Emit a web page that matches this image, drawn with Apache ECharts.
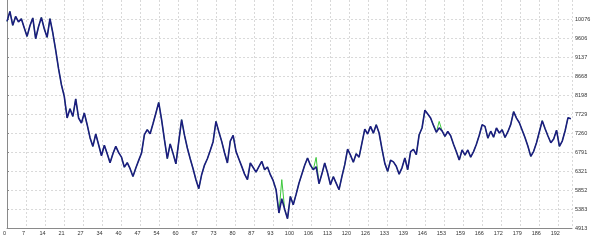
<!DOCTYPE html>
<html><head><meta charset="utf-8">
<script src="https://cdn.jsdelivr.net/npm/echarts@6/dist/echarts.min.js"></script>
<style>html,body{margin:0;padding:0;background:#fff}#c{width:596px;height:249px}</style>
</head><body><div id="c"></div>
<script>
// x-axis tick labels (bar numbers), evenly spaced grid steps
const xLabels = ['0','7','14','21','27','34','40','47','54','60','67','73','80','87','93','100','106','113','120','126','133','139','146','153','159','166','172','179','186','192'];
const xStep = 6.636;
// y-axis price tick labels
const yTicks = [4913,5383,5852,6321,6791,7260,7729,8198,8668,9137,9606,10076];
// main (navy) series, one value per bar
const mainValues = [
10027,10274,9928,10150,10012,10093,9871,9655,9920,10111,
9598,9895,10126,9846,9631,10093,9739,9314,8856,8460,
8170,7636,7866,7675,8106,7636,7512,7759,7470,7148,
6933,7240,6975,6703,6962,6752,6529,6752,6933,6777,
6666,6418,6529,6381,6190,6396,6586,6769,7222,7346,
7247,7495,7755,8022,7594,7099,6628,6995,6760,6500,
7049,7594,7210,6893,6628,6381,6109,5886,6232,6470,
6628,6831,7049,7552,7297,7057,6777,6522,7062,7203,
6809,6621,6438,6247,6109,6522,6411,6294,6430,6562,
6356,6423,6232,6084,5861,5284,5638,5379,5143,5695,
5490,5745,6020,6245,6468,6646,6468,6356,6430,6010,
6247,6522,6277,5985,6183,6024,5861,6183,6480,6864,
6717,6542,6752,6666,7012,7359,7240,7428,7260,7470,
7264,6871,6512,6314,6589,6549,6443,6245,6403,6646,
6356,6802,6859,6727,7222,7388,7829,7735,7636,7452,
7284,7391,7316,7180,7302,7198,6987,6802,6596,6844,
6715,6844,6666,6804,6987,7210,7470,7428,7136,7309,
7161,7388,7264,7346,7153,7297,7477,7792,7633,7519,
7334,7148,6938,6685,6812,7024,7297,7569,7371,7190,
7024,7118,7334,6935,7066,7321,7643,7618
];
// secondary (green) series differs from main only at these bars: [bar, value]
const greenBars = [96, 108, 151];
const greenVals = [6110, 6660, 7551];

const greenValues = mainValues.slice();
greenBars.forEach((b, k) => { greenValues[b] = greenVals[k]; });

const chart = echarts.init(document.getElementById('c'), null, {renderer: 'canvas'});
const gridLine = {show: true, lineStyle: {color: '#d9d9d9', type: [2, 2], width: 1}};
const lab = {fontFamily: 'Liberation Sans', fontSize: 5.5, color: '#333'};
chart.setOption({
  animation: false,
  backgroundColor: '#fff',
  grid: {left: 7, right: 24, top: 0, bottom: 21, containLabel: false},
  xAxis: {
    type: 'value', min: 0, max: 197.4, interval: xStep,
    axisLine: {show: true, lineStyle: {color: '#8a8a8a', width: 1}},
    axisTick: {show: false},
    splitLine: gridLine,
    axisLabel: Object.assign({}, lab, {
      margin: 2, showMaxLabel: true, showMinLabel: true, padding: [0, 5, 0, 0],
      formatter: function (v) {
        const k = Math.round(v / xStep);
        return (Math.abs(v - k * xStep) < 1e-3 && k < xLabels.length) ? xLabels[k] : '';
      }
    })
  },
  yAxis: [{
    type: 'value', position: 'right', min: 4913, max: 10556,
    axisLine: {show: true, lineStyle: {color: '#8a8a8a', width: 1}},
    axisTick: {show: true, length: 2, customValues: yTicks, lineStyle: {color: '#8a8a8a'}},
    splitLine: gridLine,
    axisLabel: Object.assign({}, lab, {margin: 3, customValues: yTicks, formatter: v => String(Math.round(v))})
  }, {
    type: 'value', position: 'left', min: 4913, max: 10556,
    axisLine: {show: true, onZero: false, lineStyle: {color: '#8a8a8a', width: 1}},
    axisTick: {show: false}, axisLabel: {show: false}, splitLine: {show: false}
  }],
  series: [{
    type: 'line', data: greenValues.map((v, i) => [i, v]), showSymbol: false,
    lineStyle: {color: '#3cc83c', width: 1}, z: 2
  }, {
    type: 'line', data: mainValues.map((v, i) => [i, v]), showSymbol: false,
    lineStyle: {color: '#1c1c80', width: 1.6}, z: 3
  }]
});
</script></body></html>
